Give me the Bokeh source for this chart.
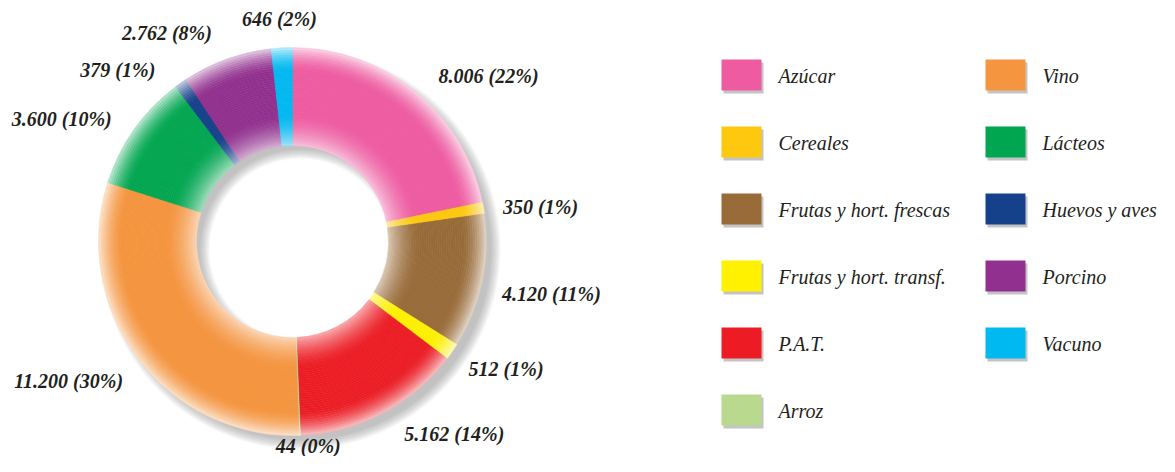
import numpy as np
from bokeh.plotting import figure
from bokeh.models import Range1d, ColumnDataSource
from bokeh.embed import file_html
from bokeh.resources import INLINE
from bokeh.core.properties import value

# ---------------- data ----------------
categories = ["Azúcar", "Cereales", "Frutas y hort. frescas", "Frutas y hort. transf.",
              "P.A.T.", "Arroz", "Vino", "Lácteos", "Huevos y aves", "Porcino", "Vacuno"]
values = [8006, 350, 4120, 512, 5162, 44, 11200, 3600, 379, 2762, 646]
colors = ["#EF5BA1", "#FEC80E", "#996B38", "#FFF100", "#ED1C24", "#B9D98E",
          "#F6953F", "#00A650", "#15418A", "#92308F", "#00B9F1"]

# ---------------- layout (not data) ----------------
label_nudge_deg = [10.6, 1.9, -0.5, -3.8, -12.4, -1.9, 5.1, -7.3, -10.3, -11.2, -0.2]

W, H = 1159, 456
def sy(py):            # picture y (from top) -> data y
    return H - py

cx, cy = 292, sy(241)
ri, ro = 96, 194

total = float(sum(values))
cum = np.concatenate([[0.0], np.cumsum(values)]) / total

p = figure(width=W, height=H, output_backend="svg", toolbar_location=None,
           x_range=Range1d(0, W), y_range=Range1d(0, H),
           x_axis_location=None, y_axis_location=None, min_border=0)
p.grid.visible = False
p.outline_line_color = None
p.background_fill_color = "white"
p.border_fill_color = "white"

# ---------------- shadow ----------------
sdx, sdy = 8, -8
for k in range(9):
    p.annulus(x=cx + sdx, y=cy + sdy, inner_radius=ri - 5 + k * 1.2, outer_radius=ro + 6 - k * 1.2,
              fill_color="#6e6e6e", fill_alpha=0.055, line_color=None)

# ---------------- ring with radial shading ----------------
def hex_rgb(h):
    h = h.lstrip("#")
    return [int(h[i:i + 2], 16) for i in (0, 2, 4)]

def shade(t):
    inner = 0.62 * max(0.0, 1 - t / 0.32) ** 1.6
    outer = 0.72 * max(0.0, (t - 0.76) / 0.24) ** 1.6
    return inner + outer

N = 44
rs = np.linspace(ri, ro, N + 1)
rows = dict(inner=[], outer=[], start=[], end=[], color=[])
for i, c in enumerate(colors):
    a0 = np.pi / 2 - 2 * np.pi * cum[i]
    a1 = np.pi / 2 - 2 * np.pi * cum[i + 1]
    base = hex_rgb(c)
    for k in range(N):
        t = (k + 0.5) / N
        w = shade(t)
        rgb = [int(round(b + (255 - b) * w)) for b in base]
        rows["inner"].append(rs[k])
        rows["outer"].append(rs[k + 1])
        rows["start"].append(a0)
        rows["end"].append(a1)
        rows["color"].append("#%02x%02x%02x" % tuple(rgb))
src = ColumnDataSource(rows)
p.annular_wedge(x=cx, y=cy, inner_radius="inner", outer_radius="outer",
                start_angle="start", end_angle="end", direction="clock",
                fill_color="color", line_color="color", line_width=0.5, source=src)

# ---------------- value labels ----------------
lx, ly, lt = [], [], []
for i, v in enumerate(values):
    txt = "%s (%d%%)" % (f"{v:,}".replace(",", "."), int(round(100 * v / total)))
    mid = 360.0 * (cum[i] + cum[i + 1]) / 2 + label_nudge_deg[i]
    th = np.deg2rad(mid)
    wtxt = 9.2 * len(txt)
    dist = ro + 19 + abs(np.sin(th)) * wtxt / 2 + abs(np.cos(th)) * 8
    lx.append(cx + dist * np.sin(th))
    ly.append(max(cy + dist * np.cos(th), 11))   # keep inside the picture
    lt.append(txt)
p.text(x=lx, y=ly, text=lt, text_align="center", text_baseline="middle",
       text_font=value("Liberation Serif"), text_font_style="bold italic",
       text_font_size="20px", text_color="#231F20")

# ---------------- legend ----------------
col_left = [721, 985]
row_top0, row_step = 59, 67
sq_w, sq_h = 40, 31
per_col = 6
leg = dict(l=[], r=[], t=[], b=[], c=[], tx=[], ty=[], name=[])
for i, (name, c) in enumerate(zip(categories, colors)):
    col, row = divmod(i, per_col)
    left = col_left[col]
    top = row_top0 + row * row_step
    leg["l"].append(left); leg["r"].append(left + sq_w)
    leg["t"].append(sy(top)); leg["b"].append(sy(top + sq_h))
    leg["c"].append(c)
    leg["tx"].append(left + 57)
    leg["ty"].append(sy(top + 16))
    leg["name"].append(name)
p.quad(left=[l + 2 for l in leg["l"]], right=[r + 2 for r in leg["r"]],
       top=[t - 3 for t in leg["t"]], bottom=[b - 3 for b in leg["b"]],
       fill_color="#c4c4c4", line_color=None)
p.quad(left=leg["l"], right=leg["r"], top=leg["t"], bottom=leg["b"],
       fill_color=leg["c"], line_color=None)
p.text(x=leg["tx"], y=leg["ty"], text=leg["name"], text_align="left",
       text_baseline="middle", text_font=value("Liberation Serif"),
       text_font_style="italic", text_font_size="20px", text_color="#231F20")

open("out.html", "w").write(file_html(p, INLINE))
